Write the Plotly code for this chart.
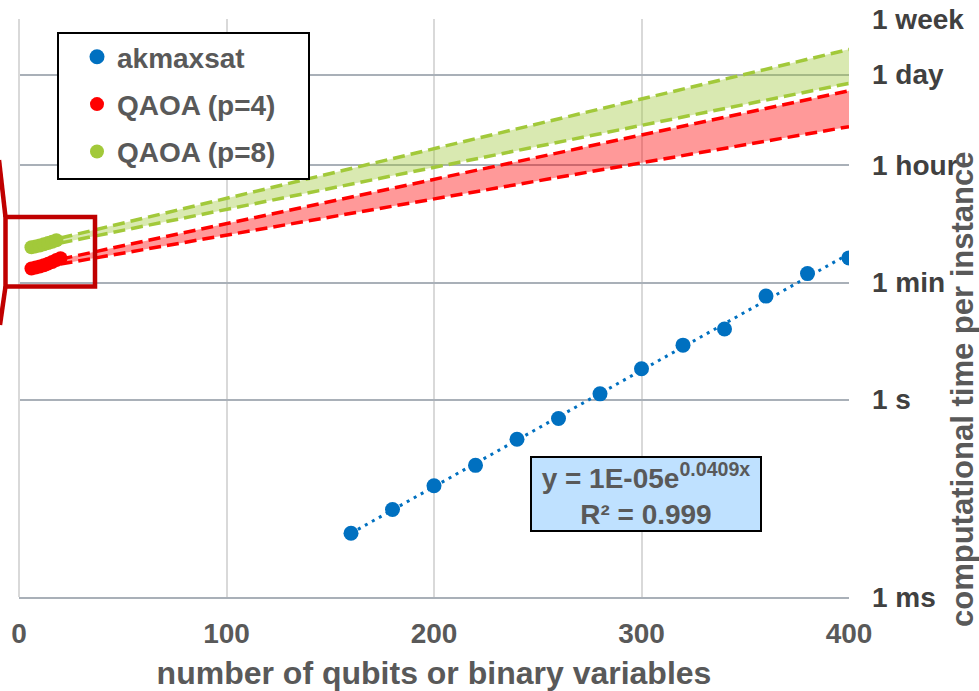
import numpy as np
import plotly.graph_objects as go

# ---------------- data ----------------
ak_x = [160, 180, 200, 220, 240, 260, 280, 300, 320, 340, 360, 380, 400]
ak_t = [0.0093, 0.0213, 0.049, 0.100, 0.249, 0.516, 1.22, 2.94, 6.70, 11.8, 37.3, 82.0, 142.0]

q4_x = [6, 8, 10, 12, 14, 16, 18, 20]
q4_t = [98, 101, 105, 110, 116, 123, 132, 140]

q8_x = [6, 8, 10, 12, 14, 16, 18]
q8_t = [206, 212, 219, 228, 238, 250, 263]

# extrapolated bands (end points of the dashed bound lines)
band_x = [20, 400]
q4_low = [114.5, 1.40e4]
q4_high = [136.0, 4.92e4]
q8_low = [239.0, 6.37e4]
q8_high = [284.0, 2.09e5]

time_vals = [1e-3, 1, 60, 3600, 86400, 604800]
time_text = ["1 ms", "1 s", "1 min", "1 hour", "1 day", "1 week"]
x_ticks = [0, 100, 200, 300, 400]

eq_text = "y = 1E-05e<sup>0.0409x</sup><br>R² = 0.999"
x_title = "number of qubits or binary variables"
y_title = "computational time per instance"

# ---------------- layout geometry ----------------
W, H = 979, 691
L, R, T, B = 19, 849, 19, 597


def px_x(p):
    return (p - L) / (R - L)


def px_y(p):
    return (B - p) / (B - T)


FONT = "Liberation Sans, Arial, sans-serif"
GRAY = "#595959"
BLUE = "#0070C0"
RED = "#FF0000"
GREEN = "#A2C93A"

# exponential trendline fitted to akmaxsat data
b, a = np.polyfit(ak_x, np.log(ak_t), 1)
trend_x = np.array(ak_x, dtype=float)
trend_y = np.exp(a + b * trend_x)

fig = go.Figure()

DASH = "12px,6px"
# bands
fig.add_trace(go.Scatter(x=band_x, y=q8_low, mode="lines",
                         line=dict(color=GREEN, width=3.5, dash=DASH),
                         showlegend=False, hoverinfo="skip"))
fig.add_trace(go.Scatter(x=band_x, y=q8_high, mode="lines", fill="tonexty",
                         fillcolor="rgba(160,200,60,0.40)",
                         line=dict(color=GREEN, width=3.5, dash=DASH),
                         showlegend=False, hoverinfo="skip"))
fig.add_trace(go.Scatter(x=band_x, y=q4_low, mode="lines",
                         line=dict(color=RED, width=3.5, dash=DASH),
                         showlegend=False, hoverinfo="skip"))
fig.add_trace(go.Scatter(x=band_x, y=q4_high, mode="lines", fill="tonexty",
                         fillcolor="rgba(255,0,0,0.40)",
                         line=dict(color=RED, width=3.5, dash=DASH),
                         showlegend=False, hoverinfo="skip"))

# trendline
fig.add_trace(go.Scatter(x=trend_x, y=trend_y, mode="lines",
                         line=dict(color=BLUE, width=3, dash="3px,5px"),
                         showlegend=False, hoverinfo="skip"))

# points
fig.add_trace(go.Scatter(x=q8_x, y=q8_t, mode="markers", name="QAOA (p=8)",
                         marker=dict(color=GREEN, size=14), legendgroup="c",
                         legendrank=3))
fig.add_trace(go.Scatter(x=q4_x, y=q4_t, mode="markers", name="QAOA (p=4)",
                         marker=dict(color=RED, size=14), legendgroup="b",
                         legendrank=2))
fig.add_trace(go.Scatter(x=ak_x, y=ak_t, mode="markers", name="akmaxsat",
                         marker=dict(color=BLUE, size=15), legendgroup="a",
                         legendrank=1))

shapes = [
    # legend frame
    dict(type="rect", xref="paper", yref="paper",
         x0=px_x(58), x1=px_x(309), y0=px_y(179), y1=px_y(33),
         fillcolor="white", line=dict(color="black", width=2), layer="above"),
    # red zoom box
    dict(type="rect", xref="paper", yref="paper",
         x0=px_x(5.5), x1=px_x(95), y0=px_y(286.5), y1=px_y(217),
         line=dict(color="#C00000", width=4.5), layer="above"),
    dict(type="line", xref="paper", yref="paper",
         x0=px_x(5.5), y0=px_y(217), x1=px_x(-1), y1=px_y(160),
         line=dict(color="#C00000", width=4.5), layer="above"),
    dict(type="line", xref="paper", yref="paper",
         x0=px_x(5.5), y0=px_y(286.5), x1=px_x(0), y1=px_y(325),
         line=dict(color="#C00000", width=4.5), layer="above"),
]

annotations = [
    dict(xref="paper", yref="paper", x=px_x(646), y=px_y(493.5),
         xanchor="center", yanchor="middle", text=eq_text, showarrow=False,
         font=dict(size=28, color=GRAY, family=FONT, weight="bold"),
         bgcolor="#BFE1FF", bordercolor="black", borderwidth=2, borderpad=0,
         width=228, align="center"),
    dict(xref="paper", yref="paper", x=px_x(962), y=px_y(390),
         xanchor="center", yanchor="middle", text=y_title, textangle=-90,
         showarrow=False,
         font=dict(size=31, color=GRAY, family=FONT, weight="bold")),
]

fig.update_layout(
    width=W, height=H, autosize=False,
    margin=dict(l=L, r=W - R, t=T, b=H - B, pad=0, autoexpand=False),
    paper_bgcolor="white", plot_bgcolor="white",
    font=dict(family=FONT, size=28, color=GRAY, weight="bold"),
    showlegend=True,
    legend=dict(x=px_x(77), y=px_y(32), xanchor="left", yanchor="top",
                bgcolor="rgba(0,0,0,0)", borderwidth=0,
                traceorder="grouped", tracegroupgap=8,
                font=dict(size=28, color=GRAY, family=FONT, weight="bold")),
    shapes=shapes,
    annotations=annotations,
    xaxis=dict(range=[0, 400], tickvals=x_ticks, ticks="",
               showgrid=True, gridcolor="#D9D9D9", gridwidth=1.5,
               zeroline=True, zerolinecolor="#D9D9D9", zerolinewidth=1.5,
               showline=True, linecolor="#A9B0B8", linewidth=1.5,
               ticklabelstandoff=11, automargin=False,
               tickfont=dict(size=28, color=GRAY, family=FONT, weight="bold"),
               title=dict(text=x_title, standoff=13,
                          font=dict(size=32, color=GRAY, family=FONT, weight="bold")),
               fixedrange=True),
    yaxis=dict(type="log", side="right",
               range=[-3, float(np.log10(604800))],
               tickvals=time_vals, ticktext=time_text, ticks="",
               showgrid=True, gridcolor="#A9B0B8", gridwidth=1.5,
               showline=False, zeroline=False, automargin=False,
               ticklabelstandoff=22,
               tickfont=dict(size=28, color="#404040", family=FONT, weight="bold"),
               fixedrange=True),
)

fig.write_html("out.html")
